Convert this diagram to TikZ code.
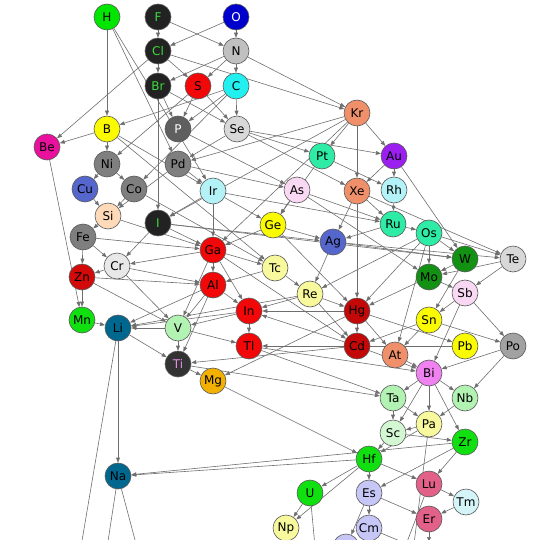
\documentclass[tikz,border=0pt]{standalone}
\usepackage{fontspec}
\setmainfont{DejaVu Sans}
\usepackage{tikz}
\usetikzlibrary{arrows.meta,backgrounds}
\definecolor{edge}{HTML}{6E6E6E}
\definecolor{cgreen}{HTML}{00E600}
\definecolor{cdark}{HTML}{222222}
\definecolor{chalo}{HTML}{3CDC3C}
\definecolor{cblue}{HTML}{0000CC}
\definecolor{clgray}{HTML}{C0C0C0}
\definecolor{ccyan}{HTML}{22F0F0}
\definecolor{cred}{HTML}{F20808}
\definecolor{csalmon}{HTML}{F0906A}
\definecolor{cyellow}{HTML}{FAFA00}
\definecolor{cmagenta}{HTML}{E8109C}
\definecolor{cdgray}{HTML}{5F5F5F}
\definecolor{cpale}{HTML}{D8D8D8}
\definecolor{cwhite}{HTML}{E8E8E8}
\definecolor{cspring}{HTML}{2EEBA5}
\definecolor{cpurple}{HTML}{9B20F0}
\definecolor{cgray}{HTML}{7F7F7F}
\definecolor{croyal}{HTML}{5566CC}
\definecolor{clcyan}{HTML}{B3F3F7}
\definecolor{cice}{HTML}{D4F4F8}
\definecolor{cpink}{HTML}{F8D8F2}
\definecolor{cpeach}{HTML}{FFDAB9}
\definecolor{cforest}{HTML}{129112}
\definecolor{ccrimson}{HTML}{D20A0A}
\definecolor{cdarkred}{HTML}{C40808}
\definecolor{clyellow}{HTML}{F8F89C}
\definecolor{cbright}{HTML}{10E010}
\definecolor{cteal}{HTML}{00678F}
\definecolor{cmint}{HTML}{B2F2B2}
\definecolor{cpmint}{HTML}{D2F7D2}
\definecolor{cslate}{HTML}{333333}
\definecolor{corchid}{HTML}{E38CE3}
\definecolor{corange}{HTML}{F2B000}
\definecolor{cviolet}{HTML}{F081F0}
\definecolor{cgrayb}{HTML}{A2A2A2}
\definecolor{crose}{HTML}{E26189}
\definecolor{clav}{HTML}{C6C6F7}
\tikzset{
  elem/.style={circle,draw=black!65,line width=0.6pt,minimum size=26pt,inner sep=0pt},
  egreen/.style={elem,fill=cgreen},
  ehalo/.style={elem,fill=cdark,text=chalo},
  eblue/.style={elem,fill=cblue,text=white},
  elgray/.style={elem,fill=clgray},
  ecyan/.style={elem,fill=ccyan},
  ered/.style={elem,fill=cred},
  esalmon/.style={elem,fill=csalmon},
  eyellow/.style={elem,fill=cyellow},
  emagenta/.style={elem,fill=cmagenta},
  edgray/.style={elem,fill=cdgray,text=white},
  epale/.style={elem,fill=cpale},
  ewhite/.style={elem,fill=cwhite},
  espring/.style={elem,fill=cspring},
  epurple/.style={elem,fill=cpurple},
  egray/.style={elem,fill=cgray},
  eroyal/.style={elem,fill=croyal},
  elcyan/.style={elem,fill=clcyan},
  eice/.style={elem,fill=cice},
  epink/.style={elem,fill=cpink},
  epeach/.style={elem,fill=cpeach},
  eforest/.style={elem,fill=cforest},
  ecrimson/.style={elem,fill=ccrimson},
  edarkred/.style={elem,fill=cdarkred},
  elyellow/.style={elem,fill=clyellow},
  ebright/.style={elem,fill=cbright},
  eteal/.style={elem,fill=cteal},
  emint/.style={elem,fill=cmint},
  epmint/.style={elem,fill=cpmint},
  eslate/.style={elem,fill=cslate,text=corchid},
  eorange/.style={elem,fill=corange},
  eviolet/.style={elem,fill=cviolet},
  egrayb/.style={elem,fill=cgrayb},
  erose/.style={elem,fill=crose},
  elav/.style={elem,fill=clav},
  earr/.style={-{Triangle[length=5pt,width=3.8pt]},line width=0.6pt,draw=edge},
  eline/.style={line width=0.6pt,draw=edge}
}
\begin{document}
\begin{tikzpicture}[x=1pt,y=-1pt,font=\fontsize{12}{14}\selectfont]
  \useasboundingbox (0,0) rectangle (540,540);
  \node[egreen] (H) at (107,17) {H};
  \node[ehalo] (F) at (158,17) {F};
  \node[eblue] (O) at (236,17) {O};
  \node[ehalo] (Cl) at (158,51) {Cl};
  \node[elgray] (N) at (236,51) {N};
  \node[ehalo] (Br) at (158,86) {Br};
  \node[ered] (S) at (198,86) {S};
  \node[ecyan] (C) at (236,86) {C};
  \node[esalmon] (Kr) at (357,113) {Kr};
  \node[eyellow] (B) at (107,129) {B};
  \node[emagenta] (Be) at (47,147) {Be};
  \node[edgray] (P) at (178,129) {P};
  \node[epale] (Se) at (237,129) {Se};
  \node[espring] (Pt) at (322,156) {Pt};
  \node[epurple] (Au) at (394,156) {Au};
  \node[egray] (Ni) at (107,164) {Ni};
  \node[egray] (Pd) at (178,164) {Pd};
  \node[eroyal] (Cu) at (85,189) {Cu};
  \node[egray] (Co) at (134,189) {Co};
  \node[elcyan] (Ir) at (213,191) {Ir};
  \node[epink] (As) at (297,190) {As};
  \node[esalmon] (Xe) at (357,191) {Xe};
  \node[elcyan] (Rh) at (394,190) {Rh};
  \node[epeach] (Si) at (108,216) {Si};
  \node[ehalo] (I) at (158,223) {I};
  \node[espring] (Ru) at (393,224) {Ru};
  \node[eyellow] (Ge) at (273,225) {Ge};
  \node[espring] (Os) at (429,233) {Os};
  \node[eroyal] (Ag) at (333,242) {Ag};
  \node[egray] (Fe) at (83,237) {Fe};
  \node[eforest] (W) at (465,259) {W};
  \node[epale] (Te) at (513,259) {Te};
  \node[ered] (Ga) at (213,250) {Ga};
  \node[ewhite] (Cr) at (117,266) {Cr};
  \node[ecrimson] (Zn) at (82,277) {Zn};
  \node[elyellow] (Tc) at (275,268) {Tc};
  \node[eforest] (Mo) at (429,277) {Mo};
  \node[ered] (Al) at (213,285) {Al};
  \node[epink] (Sb) at (465,293) {Sb};
  \node[elyellow] (Re) at (310,294) {Re};
  \node[ebright] (Mn) at (82,320) {Mn};
  \node[eteal] (Li) at (118,328) {Li};
  \node[emint] (V) at (178,328) {V};
  \node[ered] (In) at (249,311) {In};
  \node[edarkred] (Hg) at (357,311) {Hg};
  \node[eyellow] (Sn) at (429,320) {Sn};
  \node[edarkred] (Cd) at (357,346) {Cd};
  \node[ered] (Tl) at (249,346) {Tl};
  \node[eslate] (Ti) at (178,364) {Ti};
  \node[esalmon] (At) at (395,355) {At};
  \node[eyellow] (Pb) at (465,346) {Pb};
  \node[egrayb] (Po) at (513,346) {Po};
  \node[eorange] (Mg) at (213,381) {Mg};
  \node[eviolet] (Bi) at (429,373) {Bi};
  \node[emint] (Ta) at (393,398) {Ta};
  \node[emint] (Nb) at (465,398) {Nb};
  \node[elyellow] (Pa) at (429,424) {Pa};
  \node[epmint] (Sc) at (393,433) {Sc};
  \node[ebright] (Zr) at (465,442) {Zr};
  \node[ebright] (Hf) at (369,459) {Hf};
  \node[erose] (Lu) at (429,484) {Lu};
  \node[eteal] (Na) at (118,476) {Na};
  \node[elav] (Es) at (369,493) {Es};
  \node[eice] (Tm) at (466,502) {Tm};
  \node[ebright] (U) at (310,493) {U};
  \node[erose] (Er) at (429,519) {Er};
  \node[elav] (Cm) at (369,528) {Cm};
  \node[elyellow] (Np) at (286,528) {Np};
  \node[elav] (Cf) at (346,547) {};
  \coordinate (lidown) at (72,600);
  \coordinate (nadowna) at (99,600);
  \coordinate (nadownb) at (151,600);
  \coordinate (udown) at (320,600);
  \coordinate (cmdown) at (440,558);
  \coordinate (ludown) at (385,600);
  \coordinate (padown) at (407,600);
  \coordinate (erdown) at (429,542);
  \begin{scope}[on background layer]
  \draw[earr] (F) -- (Cl); \draw[earr] (F) -- (N); \draw[earr] (O) -- (N); \draw[earr] (O) -- (Cl);
  \draw[earr] (H) -- (B); \draw[earr] (H) -- (Pd); \draw[earr] (H) -- (Ir);
  \draw[earr] (Cl) -- (Br); \draw[earr] (Cl) -- (S); \draw[earr] (Cl) -- (Be); \draw[earr] (Cl) -- (Kr);
  \draw[earr] (N) -- (C); \draw[earr] (N) -- (Br); \draw[earr] (N) -- (S); \draw[earr] (N) -- (Kr);
  \draw[earr] (Br) -- (P); \draw[earr] (Br) -- (Se); \draw[earr] (Br) -- (I);
  \draw[earr] (S) -- (P); \draw[earr] (S) -- (Se); \draw[earr] (S) -- (Ni);
  \draw[earr] (C) -- (Se); \draw[earr] (C) -- (P); \draw[earr] (C) -- (B); \draw[earr] (C) -- (Co);
  \draw[earr] (B) -- (Be); \draw[earr] (B) -- (Ni); \draw[earr] (B) -- (Ir); \draw[earr] (B) -- (Tc);
  \draw[earr] (Be) -- (Mn); \draw[earr] (P) -- (As);
  \draw[earr] (Se) -- (Pd); \draw[earr] (Se) -- (Pt); \draw[earr] (Se) -- (Xe); \draw[earr] (Se) -- (Au);
  \draw[earr] (Kr) -- (Pt); \draw[earr] (Kr) -- (Au); \draw[earr] (Kr) -- (Xe);
  \draw[earr] (Kr) -- (Pd); \draw[earr] (Kr) -- (I); \draw[earr] (Kr) -- (Ga);
  \draw[earr] (Ni) -- (Co); \draw[earr] (Ni) -- (Cu);
  \draw[earr] (Pd) -- (Ir); \draw[earr] (Pd) -- (As); \draw[earr] (Pd) -- (Si);
  \draw[earr] (Pt) -- (Rh); \draw[earr] (Pt) -- (Ge);
  \draw[earr] (Au) -- (Rh); \draw[earr] (Au) -- (Xe); \draw[earr] (Au) -- (W);
  \draw[earr] (Cu) -- (Si); \draw[earr] (Co) -- (Si); \draw[earr] (Co) -- (Tc);
  \draw[earr] (Ir) -- (Ga); \draw[earr] (Ir) -- (Ge); \draw[earr] (Ir) -- (I); \draw[earr] (Ir) -- (Ru);
  \draw[earr] (As) -- (Ge); \draw[earr] (As) -- (Mo); \draw[earr] (As) -- (Ru);
  \draw[earr] (Xe) -- (Hg); \draw[earr] (Xe) -- (Ag); \draw[earr] (Xe) -- (Ru); \draw[earr] (Xe) -- (Te);
  \draw[earr] (Rh) -- (Ru); \draw[earr] (Ru) -- (Os); \draw[earr] (Ru) -- (Ag);
  \draw[earr] (Si) -- (Fe); \draw[earr] (Si) -- (Ga);
  \draw[earr] (I) -- (Ga); \draw[earr] (I) -- (Cr); \draw[earr] (I) -- (Ag); \draw[earr] (I) -- (W);
  \draw[earr] (Ge) -- (Ag); \draw[earr] (Ge) -- (Ga); \draw[earr] (Ge) -- (Hg);
  \draw[earr] (Os) -- (W); \draw[earr] (Os) -- (Mo); \draw[earr] (Os) -- (Re);
  \draw[earr] (Os) -- (Hg); \draw[earr] (Os) -- (At); \draw[earr] (Os) -- (Te);
  \draw[earr] (Ag) -- (Re); \draw[earr] (Ag) -- (W); \draw[earr] (Ag) -- (Te);
  \draw[earr] (Fe) -- (Zn); \draw[earr] (Fe) -- (Cr); \draw[earr] (Fe) -- (Ga);
  \draw[earr] (W) -- (Mo); \draw[earr] (W) -- (Sn); \draw[earr] (Te) -- (Sb); \draw[earr] (Te) -- (Mo);
  \draw[earr] (Ga) -- (Al); \draw[earr] (Ga) -- (Tc); \draw[earr] (Ga) -- (In);
  \draw[earr] (Ga) -- (Cr); \draw[earr] (Ga) -- (Cd); \draw[earr] (Ga) -- (V);
  \draw[earr] (Cr) -- (Zn); \draw[earr] (Cr) -- (Al); \draw[earr] (Cr) -- (V);
  \draw[earr] (Zn) -- (Mn); \draw[earr] (Zn) -- (Al); \draw[earr] (Zn) -- (V);
  \draw[earr] (Tc) -- (Re); \draw[earr] (Tc) -- (Al); \draw[earr] (Mo) -- (Sb); \draw[earr] (Mo) -- (Hg);
  \draw[earr] (Al) -- (In); \draw[earr] (Al) -- (V); \draw[earr] (Al) -- (Ti); \draw[earr] (Al) -- (Li);
  \draw[earr] (Sb) -- (Po); \draw[earr] (Sb) -- (Sn); \draw[earr] (Sb) -- (Bi);
  \draw[earr] (Re) -- (In); \draw[earr] (Re) -- (Cd); \draw[earr] (Re) -- (Li); \draw[earr] (Re) -- (Hg);
  \draw[earr] (Mn) -- (Li); \draw[earr] (Li) -- (Na); \draw[earr] (Li) -- (Ti);
  \draw[earr] (V) -- (Li); \draw[earr] (V) -- (Ti); \draw[earr] (V) -- (Tl);
  \draw[earr] (In) -- (Tl); \draw[earr] (In) -- (V); \draw[earr] (In) -- (Li);
  \draw[earr] (Hg) -- (Cd); \draw[earr] (Hg) -- (Pb); \draw[earr] (Hg) -- (In);
  \draw[earr] (Hg) -- (Mg); \draw[earr] (Hg) -- (At);
  \draw[earr] (Sn) -- (Cd); \draw[earr] (Sn) -- (At); \draw[earr] (Sn) -- (Po);
  \draw[earr] (Cd) -- (Ti); \draw[earr] (Cd) -- (In); \draw[earr] (Cd) -- (Bi);
  \draw[earr] (Pb) -- (Tl); \draw[earr] (Tl) -- (Ta); \draw[earr] (Tl) -- (Bi);
  \draw[earr] (Ti) -- (Mg); \draw[earr] (Ti) -- (Ta); \draw[earr] (At) -- (Bi);
  \draw[earr] (Po) -- (Nb); \draw[earr] (Po) -- (Bi); \draw[earr] (Mg) -- (Hf);
  \draw[earr] (Bi) -- (Ta); \draw[earr] (Bi) -- (Pa); \draw[earr] (Bi) -- (Nb);
  \draw[earr] (Bi) -- (Zr); \draw[earr] (Bi) -- (Sc);
  \draw[earr] (Ta) -- (Sc); \draw[earr] (Ta) -- (Pa); \draw[earr] (Nb) -- (Pa);
  \draw[earr] (Pa) -- (Sc); \draw[earr] (Pa) -- (Hf);
  \draw[earr] (Sc) -- (Zr); \draw[earr] (Sc) -- (Hf);
  \draw[earr] (Zr) -- (Lu); \draw[earr] (Zr) -- (Es); \draw[earr] (Zr) -- (Na);
  \draw[earr] (Hf) -- (U); \draw[earr] (Hf) -- (Es); \draw[earr] (Hf) -- (Lu);
  \draw[earr] (Hf) -- (Np); \draw[earr] (Hf) -- (Na);
  \draw[earr] (Lu) -- (Tm); \draw[earr] (Tm) -- (Er);
  \draw[earr] (Es) -- (Cm); \draw[earr] (Es) -- (Er); \draw[earr] (Es) -- (Cf);
  \draw[earr] (U) -- (Np); \draw[earr] (Er) -- (erdown);
  \draw[eline] (Li) -- (lidown); \draw[eline] (Na) -- (nadowna); \draw[eline] (Na) -- (nadownb);
  \draw[eline] (U) -- (udown); \draw[eline] (Cm) -- (cmdown);
  \draw[eline] (Lu) -- (ludown); \draw[eline] (Pa) -- (padown);
  \end{scope}
\end{tikzpicture}
\end{document}
